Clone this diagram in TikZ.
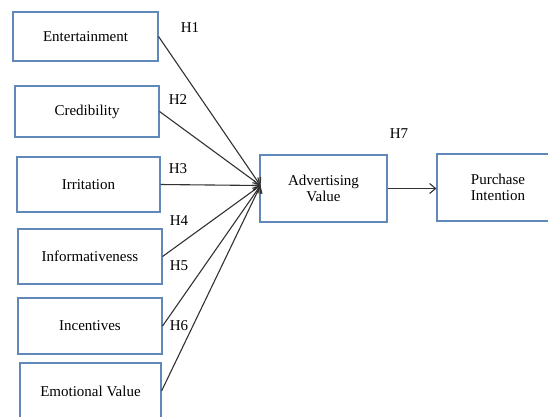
\documentclass[tikz,border=0pt]{standalone}
\usepackage{fontspec}
\setmainfont{Liberation Serif}
\usepackage{xcolor}
\usetikzlibrary{arrows.meta,positioning,calc}
\definecolor{boxblue}{RGB}{96,136,184}
\definecolor{linegray}{RGB}{50,50,50}

\begin{document}
\begin{tikzpicture}[x=1pt,y=-1pt,
        construct/.style={draw=boxblue, line width=1.1pt, rectangle, align=center, inner sep=0pt,
            font=\fontsize{15}{16}\selectfont},
        path/.style={draw=linegray, line width=1.1pt, -{Straight Barb[length=6pt,width=10pt]}},
        hyp/.style={font=\fontsize{15}{16}\selectfont}]
        \useasboundingbox (0,0) rectangle (548,416);
        \begin{scope}
        \clip (0,0) rectangle (548,416);
        \node[construct, minimum width=145pt, minimum height=49pt] (ent) at (85.5,36.5) {Entertainment};
        \node[construct, minimum width=144pt, minimum height=51pt] (cred) at (87,111.5) {Credibility};
        \node[construct, minimum width=143pt, minimum height=55pt] (irr) at (88.5,184.5) {Irritation};
        \node[construct, minimum width=144pt, minimum height=55pt] (info) at (90,256.5) {Informativeness};
        \node[construct, minimum width=144pt, minimum height=56pt] (inc) at (90,326) {Incentives};
        \node[construct, minimum width=141pt, minimum height=56pt] (emo) at (90.5,391) {Emotional Value};
        \node[construct, minimum width=127pt, minimum height=67pt] (adv) at (323.5,188.5) {Advertising\\Value};
        \node[construct, minimum width=122pt, minimum height=67pt] (pur) at (498,187.5) {Purchase\\Intention};
        \end{scope}

        \coordinate (hub) at ($(adv.west)+(1,-3)$);
        \foreach \src in {ent,cred,irr,info,inc,emo}
            \draw[path] (\src.east) -- (hub);
        \draw[path] (adv.east) -- (adv.east -| pur.west);

        \node[hyp] (h1) at (190,28) {H1};
        \node[hyp] (h2) at (178,100) {H2};
        \node[hyp] (h3) at (178,169) {H3};
        \node[hyp] (h4) at (179,221) {H4};
        \node[hyp] (h5) at (179,266) {H5};
        \node[hyp] (h6) at (179,326) {H6};
        \node[hyp] (h7) at (399,134) {H7};
    \end{tikzpicture}
\end{document}
